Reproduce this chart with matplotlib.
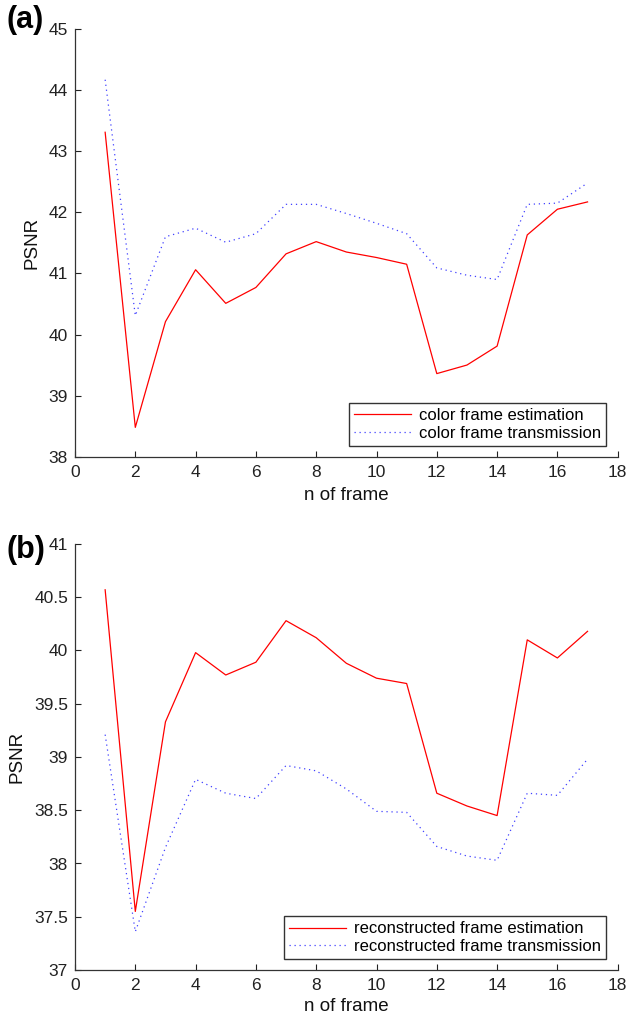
import matplotlib
matplotlib.use("Agg")
import matplotlib.pyplot as plt

frames = list(range(1, 18))

a_estimation = [43.31, 38.48, 40.21, 41.06, 40.51, 40.77, 41.32, 41.52, 41.35, 41.26,
                41.15, 39.36, 39.50, 39.81, 41.63, 42.05, 42.17]
a_transmission = [44.17, 40.31, 41.60, 41.74, 41.51, 41.65, 42.13, 42.13, 41.98, 41.82,
                  41.65, 41.09, 40.97, 40.90, 42.13, 42.15, 42.48]

b_estimation = [40.57, 37.55, 39.33, 39.98, 39.77, 39.89, 40.28, 40.12, 39.88, 39.74,
                39.69, 38.66, 38.54, 38.45, 40.10, 39.93, 40.18]
b_transmission = [39.21, 37.36, 38.15, 38.79, 38.66, 38.61, 38.92, 38.87, 38.70, 38.49,
                  38.48, 38.16, 38.07, 38.03, 38.66, 38.64, 38.98]

a_labels = ["color frame estimation", "color frame transmission"]
b_labels = ["reconstructed frame estimation", "reconstructed frame transmission"]

plt.rcParams['font.family'] = ['Liberation Sans', 'DejaVu Sans']

fig = plt.figure(figsize=(6.28, 10.21), dpi=100)

W, H = 628, 1021
def box(l, t, r, b):
    return [l / W, 1 - b / H, (r - l) / W, (b - t) / H]

ax_a = fig.add_axes(box(75, 29, 617.7, 456.7))
ax_b = fig.add_axes(box(75, 544, 617.7, 970))

def style(ax, ylim, yticks, ytl):
    ax.set_xlim(0, 18)
    ax.set_ylim(*ylim)
    ax.set_xticks(range(0, 19, 2))
    ax.set_yticks(yticks)
    ax.set_yticklabels(ytl)
    for s in ['top', 'right']:
        ax.spines[s].set_visible(False)
    for s in ['left', 'bottom']:
        ax.spines[s].set_color('#333333')
        ax.spines[s].set_linewidth(0.9)
    ax.tick_params(direction='in', length=4, labelsize=12.5, colors='#222222',
                   width=0.8, pad=5)
    ax.tick_params(axis='x', pad=6)
    ax.set_xlabel("n of frame", fontsize=13.5, color='#111111', labelpad=5)
    ax.set_ylabel("PSNR", fontsize=13.5, color='#111111', labelpad=6)

def add_legend(ax):
    leg = ax.legend(loc='lower right', bbox_to_anchor=(0.985, 0.018), fontsize=12,
                    frameon=True, fancybox=False, edgecolor='black', borderpad=0.3,
                    handlelength=3.4, labelspacing=0.15, handletextpad=0.5,
                    borderaxespad=0.2)
    leg.get_frame().set_linewidth(1.0)

ax_a.plot(frames, a_estimation, color='red', linewidth=0.9, label=a_labels[0])
ax_a.plot(frames, a_transmission, color='blue', linewidth=0.9, linestyle=(0, (1, 3)),
          alpha=0.75, label=a_labels[1])
style(ax_a, (38, 45), range(38, 46), [str(v) for v in range(38, 46)])
add_legend(ax_a)

ax_b.plot(frames, b_estimation, color='red', linewidth=0.9, label=b_labels[0])
ax_b.plot(frames, b_transmission, color='blue', linewidth=0.9, linestyle=(0, (1, 3)),
          alpha=0.75, label=b_labels[1])
yt = [37, 37.5, 38, 38.5, 39, 39.5, 40, 40.5, 41]
style(ax_b, (37, 41), yt, [("%g" % v) for v in yt])
ax_b.xaxis.labelpad = 3
add_legend(ax_b)

fig.text(6 / W, 1 - 28 / H, "(a)", fontsize=22, fontweight='bold', va='baseline')
fig.text(6 / W, 1 - 558 / H, "(b)", fontsize=22, fontweight='bold', va='baseline')

fig.savefig("out.png", dpi=100)
